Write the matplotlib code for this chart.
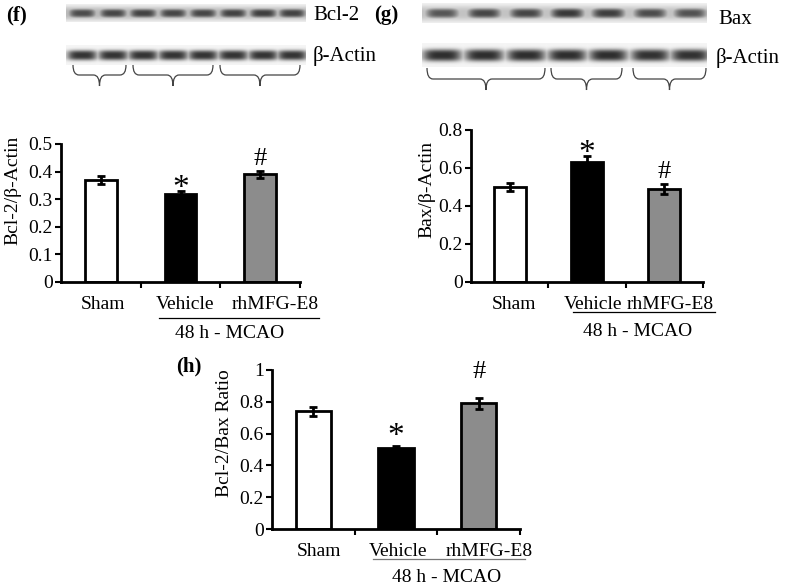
import numpy as np
import matplotlib.pyplot as plt
from matplotlib.path import Path
from matplotlib.patches import PathPatch

plt.rcParams['font.family'] = ['Liberation Serif', 'DejaVu Serif']

# ---- data ----
groups = ['Sham', 'Vehicle', 'rhMFG-E8']
bar_colors = ['white', 'black', '#8c8c8c']

bcl2_mean = [0.37, 0.32, 0.39]
bcl2_err = [0.015, 0.008, 0.012]
bcl2_marks = ['', '*', '#']

bax_mean = [0.50, 0.63, 0.49]
bax_err = [0.02, 0.035, 0.025]
bax_marks = ['', '*', '#']

ratio_mean = [0.74, 0.51, 0.79]
ratio_err = [0.03, 0.015, 0.035]
ratio_marks = ['', '*', '#']

# blot lane intensities (0..1, darkness)
bcl2_lanes = [0.85, 0.88, 0.90, 0.88, 0.88, 0.90, 0.92, 0.90]
actin_f_lanes = [0.97, 0.97, 0.97, 0.97, 0.97, 0.97, 0.97, 0.97]
bax_lanes = [0.80, 0.88, 0.88, 0.95, 0.92, 0.85, 0.82]
actin_g_lanes = [1.0, 1.0, 1.0, 1.0, 1.0, 0.98, 0.98]

W, H = 785, 588
fig = plt.figure(figsize=(W / 100, H / 100), dpi=100)

# overlay in pixel coordinates for blots / braces / group labels
ov = fig.add_axes([0, 0, 1, 1])
ov.set_xlim(0, W)
ov.set_ylim(H, 0)
ov.axis('off')


def blot_row(ax, x0, x1, yc, bh, centers, width, dark, bg=0.0):
    pad = bh
    xs = np.arange(x0, x1, 0.5)
    ys = np.arange(yc - pad, yc + pad, 0.5)
    X, Y = np.meshgrid(xs, ys)
    img = bg * np.exp(-np.abs((Y - yc) / (bh * 0.75)) ** 3) * np.ones_like(X)
    for c, d in zip(centers, dark):
        band = d * np.exp(-np.abs((X - c) / (width / 2)) ** 4 - np.abs((Y - yc) / (bh / 2)) ** 3)
        img = np.maximum(img, band)
    gray = 0.96 - 0.78 * img
    ax.imshow(gray, cmap='gray', vmin=0, vmax=1, extent=(x0, x1, yc + pad, yc - pad),
              aspect='auto', interpolation='bilinear', zorder=1)


def brace(ax, x0, x1, ytop, ymid, ytip):
    xm = (x0 + x1) / 2
    r = 6
    verts = [(x0, ytop), (x0, ymid), (x0 + r, ymid),
             (xm - r, ymid), (xm, ymid), (xm, ytip),
             (xm, ymid), (xm + r, ymid),
             (x1 - r, ymid), (x1, ymid), (x1, ytop)]
    codes = [Path.MOVETO, Path.CURVE3, Path.CURVE3,
             Path.LINETO, Path.CURVE3, Path.CURVE3,
             Path.CURVE3, Path.CURVE3,
             Path.LINETO, Path.CURVE3, Path.CURVE3]
    ax.add_patch(PathPatch(Path(verts, codes), fill=False, lw=0.9, color='#444444'))


# panel f blot
f_centers = [82, 113, 143, 173, 203, 233, 263, 292]
blot_row(ov, 66, 306, 13, 9, f_centers, 28, bcl2_lanes, bg=0.3)
blot_row(ov, 66, 306, 55, 10, f_centers, 30, actin_f_lanes)
brace(ov, 73, 126, 65, 75, 86)
brace(ov, 133, 213, 65, 75, 86)
brace(ov, 220, 300, 65, 75, 86)
ov.text(313, 15, 'Bcl-2', fontsize=15, va='center', ha='left')
ov.text(313, 56, 'β-Actin', fontsize=15, va='center', ha='left')
ov.text(6, 15, '(f)', fontsize=15, fontweight='bold', va='center', ha='left')

# panel g blot
g_centers = [442, 484, 526, 567, 608, 650, 690]
blot_row(ov, 422, 707, 13, 10, g_centers, 34, bax_lanes, bg=0.25)
blot_row(ov, 422, 707, 55, 12, g_centers, 39, actin_g_lanes)
brace(ov, 427, 545, 68, 79, 90)
brace(ov, 551, 622, 68, 79, 90)
brace(ov, 633, 706, 68, 79, 90)
ov.text(718, 20, 'Bax', fontsize=15, va='center', ha='left')
ov.text(716, 58, 'β-Actin', fontsize=15, va='center', ha='left')
ov.text(374, 15, '(g)', fontsize=15, fontweight='bold', va='center', ha='left')

ov.text(176, 366, '(h)', fontsize=15, fontweight='bold', va='center', ha='left')

# group lines "48 h - MCAO"
for (xa, xb, yl, xt, yt, col) in [(159, 319, 318, 230, 334, 'black'),
                                  (573, 715, 312, 638, 331, 'black'),
                                  (373, 525, 559, 447, 577, '#777777')]:
    ov.plot([xa, xb], [yl, yl], color=col, lw=0.9)
    ov.text(xt, yt, '48 h - MCAO', fontsize=14, ha='center', va='center')


def bar_panel(rect, means, errs, marks, mark_gap, ylim, yticks, ylabels, ylabel,
              label_xy, width, label_shift):
    ax = fig.add_axes(rect)
    x = np.arange(len(groups))
    ax.bar(x, means, width=width, color=bar_colors, edgecolor='black', linewidth=2, zorder=2)
    ax.errorbar(x, means, yerr=errs, fmt='none', ecolor='black', elinewidth=2,
                capsize=3, capthick=2, zorder=3)
    for xi, m, e, mk, gap in zip(x, means, errs, marks, mark_gap):
        if mk == '*':
            ax.annotate('*', (xi, m + e), xytext=(0, (gap - 10) * 0.72),
                        textcoords='offset points', fontsize=24, ha='center', va='baseline')
        elif mk == '#':
            ax.annotate('#', (xi, m + e), xytext=(0, gap * 0.72),
                        textcoords='offset points', fontsize=19, ha='center', va='baseline')
    ax.set_xlim(-0.5, 2.5)
    ax.set_ylim(*ylim)
    ax.set_yticks(yticks)
    ax.set_yticklabels(ylabels, fontsize=14)
    ax.set_xticks(x + np.array(label_shift))
    ax.set_xticklabels(groups, fontsize=14)
    ax.set_xticks([0.5, 1.5, 2.5], minor=True)
    ax.tick_params(axis='x', which='major', length=0, pad=10)
    ax.tick_params(axis='x', which='minor', length=4, width=1.5, direction='out')
    ax.tick_params(axis='y', length=4, width=1.5, direction='out', pad=2)
    ax.set_ylabel(ylabel, fontsize=14)
    ax.yaxis.set_label_coords(*label_xy)
    for s in ['top', 'right']:
        ax.spines[s].set_visible(False)
    for s in ['left', 'bottom']:
        ax.spines[s].set_linewidth(2)
    ax.patch.set_alpha(0)
    return ax


bar_panel([61 / W, 1 - 282 / H, 239 / W, 138 / H], bcl2_mean, bcl2_err, bcl2_marks, [0, 4, 6],
          (0, 0.5), [0, 0.1, 0.2, 0.3, 0.4, 0.5], ['0', '0.1', '0.2', '0.3', '0.4', '0.5'],
          'Bcl-2/β-Actin', (-0.165, 0.667), 0.4, [0.025, 0.06, 0.19])
bar_panel([471 / W, 1 - 282 / H, 232 / W, 152 / H], bax_mean, bax_err, bax_marks, [0, 4, 6],
          (0, 0.8), [0, 0.2, 0.4, 0.6, 0.8], ['0', '0.2', '0.4', '0.6', '0.8'],
          'Bax/β-Actin', (-0.155, 0.61), 0.41, [0.05, 0.08, 0.08])
bar_panel([272 / W, 1 - 529 / H, 248 / W, 159 / H], ratio_mean, ratio_err, ratio_marks, [0, 11, 20],
          (0, 1.0), [0, 0.2, 0.4, 0.6, 0.8, 1.0], ['0', '0.2', '0.4', '0.6', '0.8', '1'],
          'Bcl-2/Bax Ratio', (-0.157, 0.6), 0.43, [0.07, 0.02, 0.13])

fig.savefig('out.png', dpi=100)
